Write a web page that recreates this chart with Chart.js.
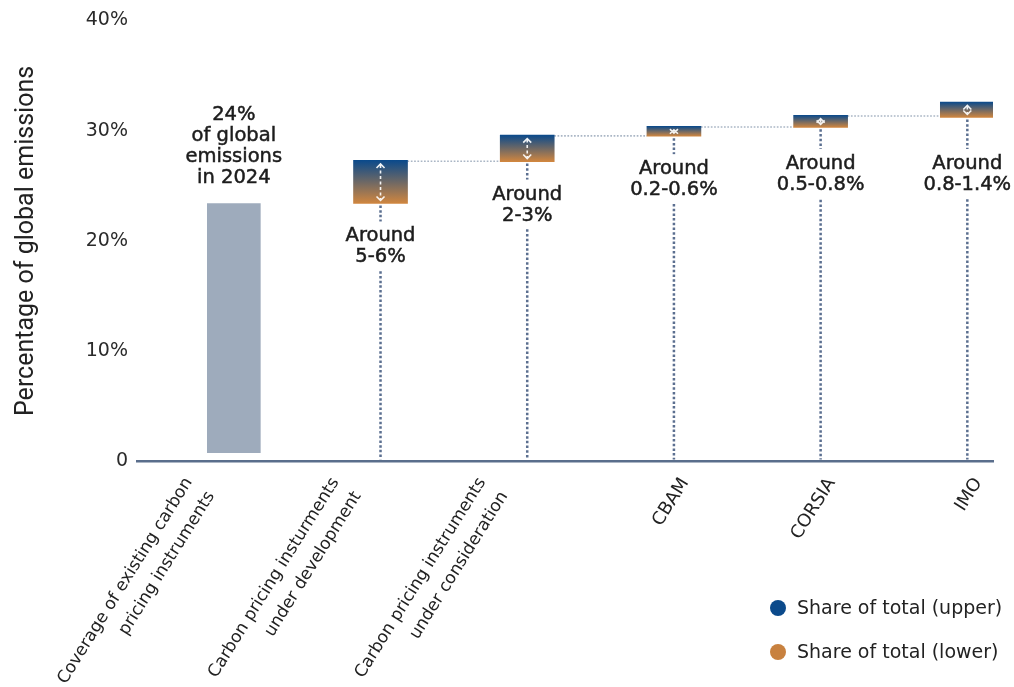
<!DOCTYPE html>
<html>
<head>
<meta charset="utf-8">
<style>
  html, body { margin: 0; padding: 0; background: #ffffff; }
  canvas { display: block; }
</style>
<script src="https://cdn.jsdelivr.net/npm/chart.js@4.4.1/dist/chart.umd.min.js"></script>
</head>
<body>
<canvas id="chart" width="1014" height="687"></canvas>
<script>
// ---------------- data ----------------
const categories = [
  ['Coverage of existing carbon', 'pricing instruments'],
  ['Carbon pricing insturments', 'under development'],
  ['Carbon pricing instruments', 'under consideration'],
  ['CBAM'],
  ['CORSIA'],
  ['IMO']
];
// existing coverage bar: [bottom, top] in % of global emissions
const coverageShare = [0.8, 23.4];
// ranges of additional coverage (lower / upper edge of each box)
const lowerShare = [null, 23.4, 27.2, 29.5, 30.3, 31.2];
const upperShare = [null, 27.3, 29.6, 30.4, 31.4, 32.6];
const annotations = [
  ['24%', 'of global', 'emissions', 'in 2024'],
  ['Around', '5-6%'],
  ['Around', '2-3%'],
  ['Around', '0.2-0.6%'],
  ['Around', '0.5-0.8%'],
  ['Around', '0.8-1.4%']
];
const yTicks = [0, 10, 20, 30, 40];
const legendLabels = ['Share of total (upper)', 'Share of total (lower)'];

// ---------------- styles ----------------
const UPPER_COLOR = '#0b4a8b';
const LOWER_COLOR = '#d0863f';
const GREY_BAR = '#9eabbc';
const TEXT = '#1c1c1c';
const ANN_FONT = '19.5px "DejaVu Sans"';
const X_MIN = -0.66, X_MAX = 5.175;
const PLOT_W = 1014 - 137 - 21;
const UNITS_PER_PX = (X_MAX - X_MIN) / PLOT_W;

const rangeData = categories.map((c, i) =>
  upperShare[i] == null ? null : { x: i, y: [lowerShare[i], upperShare[i]] }
).filter(d => d !== null);

function rangeGradient(ctx) {
  const chart = ctx.chart;
  if (!chart.chartArea || !ctx.raw) return UPPER_COLOR;
  const y = chart.scales.y;
  const top = y.getPixelForValue(ctx.raw.y[1]);
  const bot = y.getPixelForValue(ctx.raw.y[0]);
  const g = chart.ctx.createLinearGradient(0, top, 0, bot);
  g.addColorStop(0, UPPER_COLOR);
  g.addColorStop(1, LOWER_COLOR);
  return g;
}

function drawLines(ctx, lines, cx, firstBaseline, lh) {
  lines.forEach((t, k) => {
    ctx.strokeText(t, cx, firstBaseline + k * lh);
    ctx.fillText(t, cx, firstBaseline + k * lh);
  });
}

const overlay = {
  id: 'overlay',
  beforeDatasetsDraw(chart) {
    const { ctx, scales: { y } } = chart;
    const bars = chart.getDatasetMeta(1).data.map(b => b.getProps(['x', 'y', 'base', 'width'], true));
    const zeroPx = y.getPixelForValue(0);
    ctx.save();
    // vertical dotted drop lines
    ctx.strokeStyle = '#5b6f90';
    ctx.lineWidth = 2.5;
    ctx.setLineDash([2.5, 2.2]);
    bars.forEach(b => {
      ctx.beginPath();
      ctx.moveTo(b.x, b.base + 2);
      ctx.lineTo(b.x, zeroPx - 2);
      ctx.stroke();
    });
    // horizontal connectors from the top of one box to the next box
    ctx.strokeStyle = '#aab6c5';
    ctx.lineWidth = 1.6;
    ctx.setLineDash([1.7, 1.6]);
    for (let i = 0; i < bars.length - 1; i++) {
      const a = bars[i], b = bars[i + 1];
      ctx.beginPath();
      ctx.moveTo(a.x + a.width / 2, a.y + 0.75);
      ctx.lineTo(b.x - b.width / 2, a.y + 0.75);
      ctx.stroke();
    }
    ctx.restore();
  },
  afterDatasetsDraw(chart) {
    const { ctx } = chart;
    const bars = chart.getDatasetMeta(1).data.map(b => b.getProps(['x', 'y', 'base', 'width'], true));
    const cov = chart.getDatasetMeta(0).data[0].getProps(['x', 'y', 'base', 'width'], true);
    ctx.save();
    // white double arrows inside boxes
    bars.forEach(b => {
      const top = b.y + 3.5, bot = b.base - 3;
      ctx.strokeStyle = 'rgba(255,255,255,0.92)';
      ctx.lineWidth = 1.6;
      ctx.setLineDash([3, 2.5]);
      ctx.beginPath();
      ctx.moveTo(b.x, top + 1);
      ctx.lineTo(b.x, bot - 1);
      ctx.stroke();
      ctx.setLineDash([]);
      ctx.beginPath();
      ctx.moveTo(b.x - 4, top + 4); ctx.lineTo(b.x, top); ctx.lineTo(b.x + 4, top + 4);
      ctx.moveTo(b.x - 4, bot - 4); ctx.lineTo(b.x, bot); ctx.lineTo(b.x + 4, bot - 4);
      ctx.stroke();
    });
    // annotation texts
    ctx.font = ANN_FONT;
    ctx.textAlign = 'center';
    ctx.textBaseline = 'alphabetic';
    ctx.lineWidth = 0.5;
    ctx.strokeStyle = TEXT;
    const LH = 21;
    // coverage label above the grey bar
    const covLines = annotations[0];
    const lastBase = cov.y - 20;
    ctx.fillStyle = TEXT;
    drawLines(ctx, covLines, cov.x, lastBase - (covLines.length - 1) * LH, LH);
    // range labels below each box
    bars.forEach((b, i) => {
      const lines = annotations[i + 1];
      const first = Math.max(b.base + 38, 169);
      const w = Math.max(...lines.map(t => ctx.measureText(t).width));
      ctx.fillStyle = '#ffffff';
      ctx.fillRect(b.x - w / 2 - 3, first - 20, w + 6, (lines.length - 1) * LH + 28);
      ctx.fillStyle = TEXT;
      drawLines(ctx, lines, b.x, first, LH);
    });
    ctx.restore();
  },
  afterDraw(chart) {
    const { ctx } = chart;
    const colors = [UPPER_COLOR, '#c8813f'];
    const lx = 778, ly = 608, gap = 44;
    ctx.save();
    ctx.font = '19px "DejaVu Sans"';
    ctx.textAlign = 'left';
    ctx.textBaseline = 'middle';
    legendLabels.forEach((t, i) => {
      const cy = ly + i * gap;
      ctx.fillStyle = colors[i];
      ctx.beginPath();
      ctx.arc(lx, cy, 8, 0, Math.PI * 2);
      ctx.fill();
      ctx.fillStyle = '#222222';
      ctx.fillText(t, lx + 19, cy + 1);
    });
    ctx.restore();
  }
};

new Chart(document.getElementById('chart'), {
  type: 'bar',
  data: {
    datasets: [
      {
        label: 'Coverage of existing carbon pricing instruments',
        data: [{ x: 0, y: coverageShare }],
        backgroundColor: GREY_BAR,
        barThickness: 53,
        grouped: false
      },
      {
        label: 'Share of total',
        data: rangeData,
        backgroundColor: rangeGradient,
        barThickness: 54,
        grouped: false
      }
    ]
  },
  options: {
    responsive: false,
    animation: false,
    devicePixelRatio: 1,
    events: [],
    layout: { padding: { top: 17, right: 21, left: 0, bottom: 0 } },
    plugins: { legend: { display: false }, tooltip: { enabled: false } },
    scales: {
      x: {
        type: 'linear',
        min: X_MIN,
        max: X_MAX,
        offset: false,
        grid: { display: false, drawTicks: false },
        border: { display: true, color: '#5a6e8c', width: 2.5 },
        afterBuildTicks(scale) {
          // multi-line labels are right-aligned on their block corner, single ones on the word
          scale.ticks = categories.map((lines, i) => ({
            value: i + (lines.length > 1 ? -45 : 11) * UNITS_PER_PX
          }));
        },
        afterFit(scale) { scale.height = 225.5; },
        ticks: {
          autoSkip: false,
          minRotation: 58,
          maxRotation: 58,
          padding: 11,
          color: '#222222',
          font: (c) => ({ family: 'DejaVu Sans', size: (categories[c.index] || []).length > 1 ? 17 : 18, lineHeight: 1.53 }),
          callback: (v, i) => categories[i]
        }
      },
      y: {
        min: 0,
        max: 40,
        grid: { display: false, drawTicks: false },
        border: { display: false },
        afterBuildTicks(scale) { scale.ticks = yTicks.map(v => ({ value: v })); },
        afterFit(scale) { scale.width = 137; },
        ticks: {
          padding: 9,
          color: '#2a2a2a',
          font: { family: 'DejaVu Sans', size: 19 },
          callback: v => (v === 0 ? '0' : v + '%')
        },
        title: {
          display: true,
          text: 'Percentage of global emissions',
          color: '#222222',
          font: { family: 'Roboto', size: 25, lineHeight: 1.2 },
          padding: { top: 12, bottom: 0 }
        }
      }
    }
  },
  plugins: [overlay]
});
</script>
</body>
</html>
